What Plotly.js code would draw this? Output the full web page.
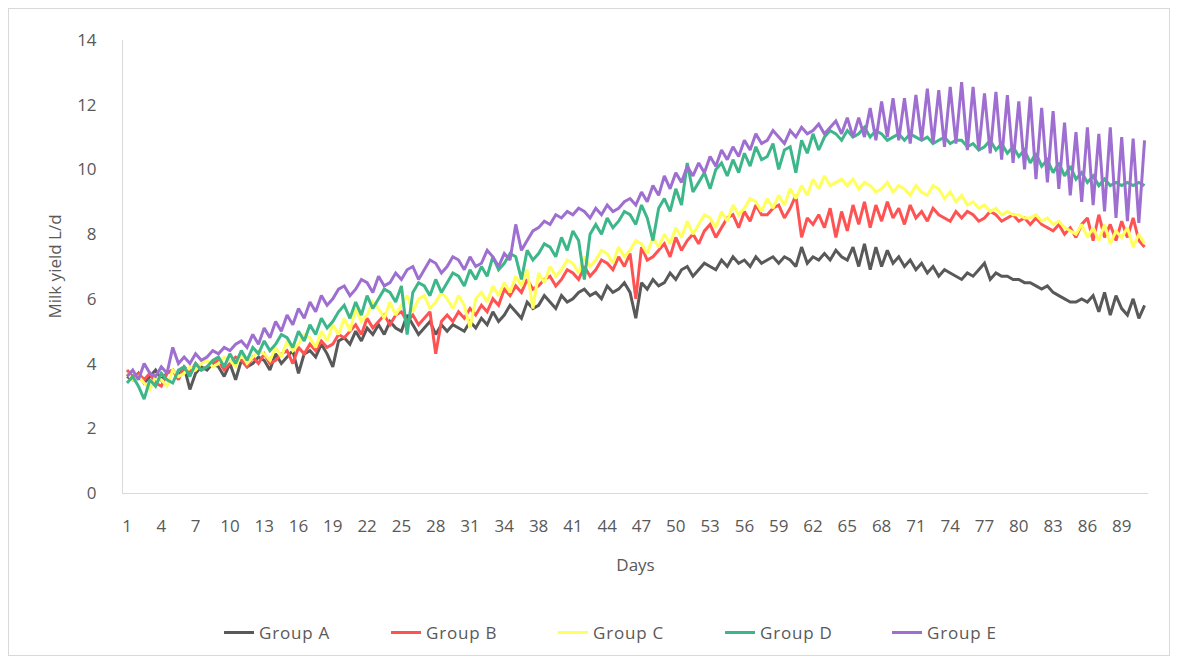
<!DOCTYPE html>
<html>
<head>
<meta charset="utf-8">
<script src="https://cdn.plot.ly/plotly-3.0.1.min.js"></script>
<style>
  html, body { margin: 0; padding: 0; background: #ffffff; }
  #wrap { position: relative; width: 1178px; height: 664px; }
  #chart { position: absolute; left: 0; top: 0; width: 1178px; height: 664px; }
  #frame { position: absolute; left: 8px; top: 8px; width: 1160px; height: 646px; border: 1px solid #d9d9d9; pointer-events: none; }
  .legendtext { letter-spacing: 0.8px; }
</style>
</head>
<body>
<div id="wrap"><div id="chart"></div><div id="frame"></div></div>
<script>
// Tick labels on the category axis (every third category)
const tickLabels = ['1','4','7','10','13','16','19','22','25','28','31','34','38','41','44','47','50','53','56','59','62','65','68','71','74','77','80','83','86','89'];

const seriesNames = ['Group A','Group B','Group C','Group D','Group E'];
const seriesColors = ['#595959','#FF5353','#FFFF5E','#3DB68A','#9E6FD0'];

// Milk yield (L/d), two readings per category
const groupA = [
3.6,3.5, 3.7,3.4, 3.6,3.8, 3.5,3.7, 3.8,3.6, 3.9,3.2, 3.7,3.9, 3.8,4.0, 3.9,3.6, 4.0,3.5,
4.1,3.9, 4.0,4.2, 4.1,3.8, 4.3,4.0, 4.2,4.4, 3.7,4.3, 4.4,4.2, 4.6,4.3, 3.9,4.7, 4.8,4.6,
5.0,4.7, 5.1,4.9, 5.2,4.9, 5.3,5.1, 5.0,5.5, 5.2,4.9, 5.1,5.3, 4.9,5.2, 5.0,5.2, 5.1,5.0,
5.3,5.1, 5.4,5.2, 5.6,5.3, 5.5,5.8, 5.6,5.4, 5.9,5.7, 5.8,6.1, 5.9,5.7, 6.1,5.9, 6.0,6.2,
6.3,6.1, 6.2,6.0, 6.4,6.2, 6.3,6.5, 6.2,5.4, 6.5,6.3, 6.6,6.4, 6.5,6.8, 6.6,6.9, 7.0,6.7,
6.9,7.1, 7.0,6.9, 7.2,7.0, 7.3,7.1, 7.2,7.0, 7.3,7.1, 7.2,7.3, 7.1,7.3, 7.2,7.0, 7.6,7.1,
7.3,7.2, 7.4,7.2, 7.5,7.3, 7.2,7.6, 7.0,7.7, 6.9,7.6, 7.0,7.5, 7.1,7.3, 7.0,7.2, 6.9,7.1,
6.8,7.0, 6.7,6.9, 6.8,6.7, 6.6,6.8, 6.7,6.9, 7.1,6.6, 6.8,6.7, 6.7,6.6, 6.6,6.5, 6.5,6.4,
6.3,6.4, 6.2,6.1, 6.0,5.9, 5.9,6.0, 5.9,6.1, 5.6,6.2, 5.5,6.1, 5.7,5.5, 6.0,5.4, 5.8
];

const groupB = [
3.8,3.6, 3.7,3.5, 3.7,3.4, 3.3,3.7, 3.8,3.5, 3.9,3.7, 4.0,3.8, 3.9,4.0, 4.1,3.8, 4.0,4.2,
4.1,3.9, 4.2,4.0, 4.3,4.0, 4.1,4.3, 4.4,4.0, 4.5,4.3, 4.6,4.4, 4.7,4.5, 4.6,4.9, 4.8,5.0,
5.2,4.9, 5.4,5.1, 5.3,5.5, 5.2,5.5, 5.6,5.3, 5.5,5.2, 5.4,5.6, 4.3,5.3, 5.5,5.3, 5.6,5.4,
5.7,5.5, 5.8,5.6, 6.0,5.8, 6.3,6.1, 6.4,6.2, 6.6,6.3, 6.4,6.6, 6.7,6.4, 6.6,6.9, 6.8,6.6,
7.0,6.7, 6.9,7.2, 7.1,6.9, 7.3,7.0, 7.4,6.0, 7.6,7.2, 7.3,7.5, 7.7,7.3, 7.9,7.5, 7.8,8.0,
7.7,8.1, 8.3,7.9, 8.2,8.5, 8.6,8.2, 8.7,8.4, 8.9,8.6, 8.6,8.8, 8.9,8.5, 8.8,9.2, 7.9,8.5,
8.3,8.6, 8.2,8.8, 7.9,8.7, 8.1,8.9, 8.3,9.0, 8.2,8.9, 8.4,9.0, 8.5,8.8, 8.3,8.9, 8.5,8.7,
8.4,8.8, 8.6,8.5, 8.4,8.7, 8.5,8.7, 8.6,8.4, 8.5,8.7, 8.6,8.4, 8.5,8.6, 8.4,8.5, 8.3,8.5,
8.3,8.2, 8.1,8.3, 8.0,8.2, 7.9,8.3, 8.5,7.8, 8.6,7.9, 8.3,7.8, 8.4,7.9, 8.5,7.8, 7.6
];

const groupC = [
3.7,3.5, 3.6,3.4, 3.2,3.6, 3.5,3.3, 3.8,3.6, 3.7,3.9, 3.8,4.0, 4.1,3.9, 4.0,4.2, 4.1,3.9,
4.3,4.0, 4.2,4.4, 4.3,4.1, 4.5,4.2, 4.7,4.4, 4.6,4.9, 4.8,4.5, 5.0,4.7, 5.2,4.9, 5.4,5.0,
5.7,5.3, 5.5,5.9, 5.7,5.4, 5.9,5.5, 5.8,6.1, 5.6,6.0, 6.1,5.7, 5.9,6.2, 6.0,5.7, 6.1,5.8,
5.1,6.0, 6.2,5.9, 6.4,6.1, 6.5,6.2, 6.7,6.4, 6.9,5.7, 6.8,6.5, 7.0,6.7, 6.9,7.2, 7.1,6.8,
7.3,7.0, 7.2,7.5, 7.4,7.1, 7.6,7.3, 7.5,7.8, 7.7,7.4, 7.9,7.6, 8.0,7.7, 8.2,7.9, 8.4,8.0,
8.3,8.6, 8.5,8.2, 8.7,8.4, 8.9,8.6, 8.8,9.1, 9.0,8.7, 9.1,8.8, 9.2,8.9, 9.4,9.1, 9.5,9.2,
9.7,9.4, 9.8,9.5, 9.6,9.7, 9.5,9.7, 9.4,9.6, 9.5,9.3, 9.4,9.6, 9.3,9.5, 9.4,9.2, 9.5,9.3,
9.2,9.5, 9.4,9.1, 9.3,9.0, 9.2,8.9, 9.0,8.8, 8.9,8.7, 8.8,8.6, 8.7,8.6, 8.6,8.5, 8.5,8.6,
8.4,8.5, 8.3,8.4, 8.2,8.1, 8.0,8.3, 7.9,8.2, 7.8,8.3, 7.7,8.1, 7.9,8.2, 7.6,8.0, 7.7
];

const groupD = [
3.4,3.6, 3.3,2.9, 3.5,3.3, 3.7,3.5, 3.4,3.8, 3.9,3.6, 4.0,3.8, 3.9,4.1, 4.2,3.9, 4.3,4.0,
4.4,4.1, 4.5,4.3, 4.7,4.4, 4.6,4.9, 4.8,4.5, 5.0,4.7, 5.2,4.9, 5.4,5.1, 5.3,5.6, 5.8,5.4,
5.9,5.5, 6.1,5.7, 6.0,6.3, 6.2,5.9, 6.4,4.9, 6.2,6.5, 6.4,6.1, 6.6,6.2, 6.5,6.8, 6.7,6.4,
6.9,6.6, 7.0,6.7, 7.3,6.9, 7.1,7.4, 7.3,6.6, 7.5,7.2, 7.4,7.7, 7.6,7.3, 7.9,7.5, 8.1,7.8,
6.6,8.0, 8.3,8.0, 8.5,8.2, 8.4,8.7, 8.6,8.3, 8.9,8.5, 7.8,8.8, 9.1,8.7, 9.4,8.9, 10.2,9.3,
9.6,9.9, 9.4,10.0, 10.2,9.8, 10.3,9.9, 10.5,10.1, 10.7,10.3, 10.4,10.8, 10.0,10.6, 10.7,9.9, 10.9,10.5,
11.1,10.6, 11.0,11.2, 11.1,10.9, 11.2,11.0, 11.1,11.3, 11.0,11.2, 11.1,10.9, 11.0,11.1, 10.9,11.1, 11.0,10.9,
11.0,10.8, 10.9,11.0, 10.8,10.9, 10.9,10.7, 10.8,10.6, 10.7,10.9, 10.6,10.8, 10.5,10.7, 10.4,10.6, 10.2,10.5,
10.1,10.3, 9.9,10.2, 9.8,10.1, 9.7,9.9, 9.6,9.8, 9.5,9.7, 9.5,9.6, 9.5,9.6, 9.5,9.6, 9.5
];

const groupE = [
3.6,3.8, 3.5,4.0, 3.7,3.6, 3.9,3.7, 4.5,4.0, 4.2,4.0, 4.3,4.1, 4.2,4.4, 4.3,4.5, 4.4,4.6,
4.7,4.5, 4.9,4.6, 5.1,4.8, 5.3,5.0, 5.5,5.2, 5.7,5.4, 5.9,5.6, 6.1,5.8, 6.0,6.3, 6.4,6.1,
6.3,6.6, 6.5,6.2, 6.7,6.4, 6.5,6.8, 6.6,6.9, 7.0,6.6, 6.9,7.2, 7.1,6.8, 7.0,7.3, 7.2,6.9,
7.3,7.0, 7.1,7.5, 7.3,7.0, 7.4,7.2, 8.3,7.5, 7.8,8.1, 8.2,8.4, 8.3,8.6, 8.5,8.7, 8.6,8.8,
8.7,8.5, 8.8,8.6, 8.9,8.7, 8.8,9.0, 9.1,8.9, 9.3,9.0, 9.5,9.2, 9.8,9.4, 9.9,9.6, 10.1,9.8,
10.2,9.9, 10.4,10.1, 10.6,10.3, 10.7,10.4, 10.9,10.6, 11.1,10.8, 10.9,11.2, 11.0,10.8, 11.2,11.0, 11.3,11.1,
11.2,11.4, 11.1,11.3, 11.5,11.1, 11.6,11.0, 11.6,11.0, 11.9,10.9, 12.1,11.0, 12.2,10.9, 12.2,10.8, 12.3,10.9,
12.5,10.8, 12.45,10.7, 12.55,10.8, 12.7,10.6, 12.55,10.6, 12.35,10.5, 12.4,10.3, 12.3,10.2, 12.1,10.0, 12.25,9.7,
11.9,9.6, 11.8,9.4, 11.45,9.2, 11.15,9.0, 11.3,8.9, 11.1,8.7, 11.3,8.5, 11.0,8.4, 10.95,8.35, 10.9
];

const allSeries = [groupA, groupB, groupC, groupD, groupE];

const traces = allSeries.map((vals, s) => ({
  type: 'scatter',
  mode: 'lines',
  name: seriesNames[s],
  x: vals.map((_, i) => 1 + i / 2),
  y: vals,
  line: { color: seriesColors[s], width: 3 },
  hoverinfo: 'skip'
}));

const tickPositions = tickLabels.map((_, i) => 1 + 3 * i);
const fontFam = 'Open Sans, Lato, sans-serif';

const layout = {
  width: 1178,
  height: 664,
  paper_bgcolor: '#ffffff',
  plot_bgcolor: '#ffffff',
  margin: { l: 123, r: 30, t: 40, b: 171 },
  font: { family: fontFam, size: 17, color: '#595959' },
  showlegend: true,
  legend: {
    orientation: 'h',
    x: 0.501, xanchor: 'center',
    y: -0.309, yanchor: 'middle',
    font: { family: fontFam, size: 17, color: '#595959' },
    entrywidth: 122,
    entrywidthmode: 'pixels',
    traceorder: 'normal'
  },
  xaxis: {
    range: [0.65, 90.3],
    tickmode: 'array',
    tickvals: tickPositions,
    ticktext: tickLabels,
    showgrid: false,
    zeroline: false,
    showline: true,
    linecolor: '#d9d9d9',
    linewidth: 1,
    ticks: '',
    ticklabelstandoff: 18,
    tickfont: { family: fontFam, size: 17, color: '#595959' },
    title: { text: 'Days', font: { family: fontFam, size: 17, color: '#595959' }, standoff: 22 }
  },
  yaxis: {
    range: [0, 14],
    tickmode: 'array',
    tickvals: [0, 2, 4, 6, 8, 10, 12, 14],
    showgrid: false,
    zeroline: false,
    showline: true,
    linecolor: '#d9d9d9',
    linewidth: 1,
    ticks: '',
    ticklabelstandoff: 22,
    tickfont: { family: fontFam, size: 17, color: '#595959' },
    title: { text: 'Milk yield L/d', font: { family: fontFam, size: 17, color: '#595959' }, standoff: 11 }
  }
};

Plotly.newPlot('chart', traces, layout, { displayModeBar: false, staticPlot: true });
</script>
</body>
</html>
